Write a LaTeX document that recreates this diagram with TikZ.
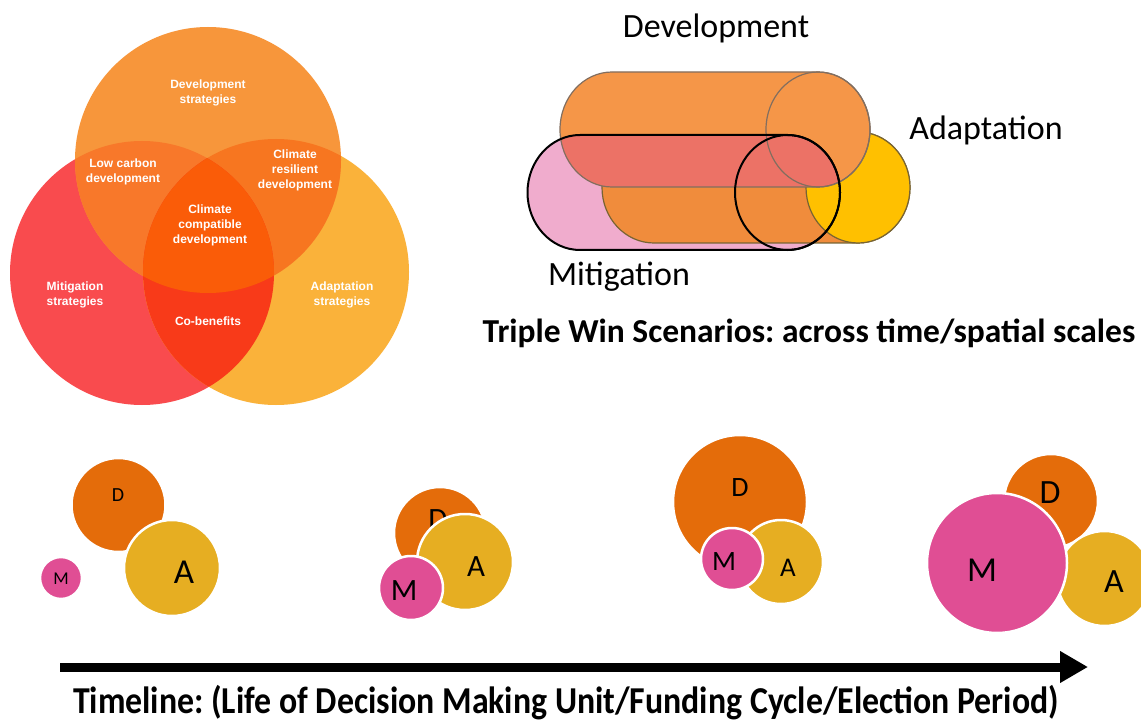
\documentclass[tikz,border=0pt]{standalone}
\usepackage{fontspec}
\setmainfont{Carlito}
\newfontfamily\vennfont{Liberation Sans}
\usetikzlibrary{arrows.meta}
\frenchspacing
\definecolor{vT}{RGB}{247,150,59}
\definecolor{vL}{RGB}{249,75,78}
\definecolor{vR}{RGB}{250,178,58}
\definecolor{vTL}{RGB}{248,120,42}
\definecolor{vTR}{RGB}{247,118,32}
\definecolor{vLR}{RGB}{248,58,25}
\definecolor{vC}{RGB}{250,92,8}
\definecolor{cDev}{RGB}{245,150,72}
\definecolor{cDevLine}{RGB}{130,110,95}
\definecolor{cMit}{RGB}{240,172,205}
\definecolor{cDM}{RGB}{236,114,102}
\definecolor{cAdB}{RGB}{240,140,60}
\definecolor{cAdF}{RGB}{255,192,0}
\definecolor{cAdLine}{RGB}{120,100,50}
\definecolor{bD}{RGB}{228,108,10}
\definecolor{bA}{RGB}{230,174,34}
\definecolor{bM}{RGB}{224,78,148}
\tikzset{
  venntxt/.style={text=white, align=center, font=\vennfont\bfseries\fontsize{12}{15}\selectfont, inner sep=0pt},
  lbl/.style={font=\fontsize{34}{38}\selectfont, inner sep=0pt},
  bub/.style={circle, draw=white, line width=2.5pt, inner sep=0pt},
  bubtxt/.style={inner sep=0pt, text=black},
  title/.style={font=\bfseries\fontsize{33.5}{36}\selectfont, inner sep=0pt}
}
\begin{document}
\begin{tikzpicture}[x=1pt,y=-1pt]
\useasboundingbox (0,0) rectangle (1141,722);
\fill[white] (0,0) rectangle (1141,722);
% ---------------- Venn diagram ----------------
\def\cT{(208,160) circle[radius=133pt]}
\def\cL{(142,273) circle[radius=132pt]}
\def\cR{(276,272) circle[radius=133pt]}
\fill[vL] \cL;
\fill[vR] \cR;
\fill[vT] \cT;
\begin{scope}\clip \cT; \fill[vTL] \cL; \end{scope}
\begin{scope}\clip \cT; \fill[vTR] \cR; \end{scope}
\begin{scope}\clip \cL; \fill[vLR] \cR; \end{scope}
\begin{scope}\clip \cT; \clip \cL; \fill[vC] \cR; \end{scope}
\node[venntxt] (vdev) at (208,93) {Development\\strategies};
\node[venntxt] (vlow) at (123,172) {Low carbon\\development};
\node[venntxt] (vres) at (295,170) {Climate\\resilient\\development};
\node[venntxt] (vccd) at (210,225) {Climate\\compatible\\development};
\node[venntxt] (vmit) at (75,295) {Mitigation\\strategies};
\node[venntxt] (vada) at (342,295) {Adaptation\\strategies};
\node[venntxt] (vcob) at (208,321) {Co-benefits};
% ---------------- Cylinders ----------------
\def\mitbody{(787.5,135) -- (580,135) arc[start angle=90,end angle=270,x radius=52.5pt,y radius=57.5pt] -- (787.5,250) arc[start angle=-90,end angle=90,x radius=52.5pt,y radius=57.5pt] -- cycle}
\def\devbody{(818,72) -- (612,72) arc[start angle=90,end angle=270,x radius=52pt,y radius=57.5pt] -- (818,187) arc[start angle=-90,end angle=90,x radius=52pt,y radius=57.5pt] -- cycle}
\def\adabody{(858,132) -- (654,132) arc[start angle=90,end angle=270,x radius=52pt,y radius=55.5pt] -- (858,243) arc[start angle=-90,end angle=90,x radius=52pt,y radius=55.5pt] -- cycle}
\fill[cMit] \mitbody;
\fill[cAdB, draw=cAdLine, line width=1.2pt] \adabody;
\fill[cAdF, draw=cAdLine, line width=1.2pt] (858,187.5) ellipse[x radius=52pt, y radius=55.5pt];
\fill[cDev] \devbody;
\begin{scope}\clip \mitbody; \fill[cDM] \devbody; \end{scope}
\draw[cDevLine, line width=1.2pt] \devbody;
\draw[cDevLine, line width=1.2pt] (818,129.5) ellipse[x radius=52pt, y radius=57.5pt];
\draw[black, line width=2pt] \mitbody;
\draw[black, line width=2pt] (787.5,192.5) ellipse[x radius=52.5pt, y radius=57.5pt];
\node[lbl] (ldev) at (716,28) {Development};
\node[lbl] (lada) at (986,130) {Adaptation};
\node[lbl] (lmit) at (619,277) {Mitigation};
\node[title] (ttl) at (809,333) {Triple Win Scenarios: across time/spatial scales};
% ---------------- Bubbles ----------------
% group 1
\node[bub, fill=bD, minimum size=94pt] (d1) at (118.5,505) {};
\node[bubtxt, font=\fontsize{20}{20}\selectfont] (d1t) at (118,495) {D};
\node[bub, fill=bA, minimum size=96pt] (a1) at (172,568) {};
\node[bubtxt, font=\fontsize{35}{35}\selectfont] (a1t) at (184,572) {A};
\node[bub, fill=bM, minimum size=42pt] (m1) at (61,578) {};
\node[bubtxt, font=\fontsize{18}{18}\selectfont] (m1t) at (61,579) {M};
% group 2
\node[bub, fill=bD, minimum size=92pt] (d2) at (440,533) {};
\node[bubtxt, font=\fontsize{31}{31}\selectfont] (d2t) at (438,520) {D};
\node[bub, fill=bA, minimum size=96pt] (a2) at (465,562) {};
\node[bubtxt, font=\fontsize{31}{31}\selectfont] (a2t) at (476,567) {A};
\node[bub, fill=bM, minimum size=64pt] (m2) at (411,588) {};
\node[bubtxt, font=\fontsize{31}{31}\selectfont] (m2t) at (404,591) {M};
% group 3
\node[bub, fill=bD, minimum size=134pt] (d3) at (740,502) {};
\node[bubtxt, font=\fontsize{28}{28}\selectfont] (d3t) at (740,488) {D};
\node[bub, fill=bA, minimum size=84pt] (a3) at (781,562) {};
\node[bubtxt, font=\fontsize{27}{27}\selectfont] (a3t) at (788,568) {A};
\node[bub, fill=bM, minimum size=62pt] (m3) at (732,559) {};
\node[bubtxt, font=\fontsize{28}{28}\selectfont] (m3t) at (724,562) {M};
% group 4
\node[bub, fill=bD, minimum size=94pt] (d4) at (1051,501) {};
\node[bubtxt, font=\fontsize{34}{34}\selectfont] (d4t) at (1050,493) {D};
\node[bub, fill=bA, minimum size=95pt] (a4) at (1104.5,578.5) {};
\node[bubtxt, font=\fontsize{34}{34}\selectfont] (a4t) at (1114,582) {A};
\node[bub, fill=bM, minimum size=140pt] (m4) at (997,563) {};
\node[bubtxt, font=\fontsize{35}{35}\selectfont] (m4t) at (982,570) {M};
% ---------------- Timeline ----------------
\coordinate (ts) at (60,667);
\coordinate (te) at (1088,667);
\draw[line width=9pt, -{Triangle[length=28pt,width=30pt]}] (ts) -- (te);
\node[inner sep=0pt] (tl) at (566,703) {\scalebox{0.89}[1]{\bfseries\fontsize{38}{40}\selectfont Timeline: (Life of Decision Making Unit/Funding Cycle/Election Period)}};
\end{tikzpicture}
\end{document}
